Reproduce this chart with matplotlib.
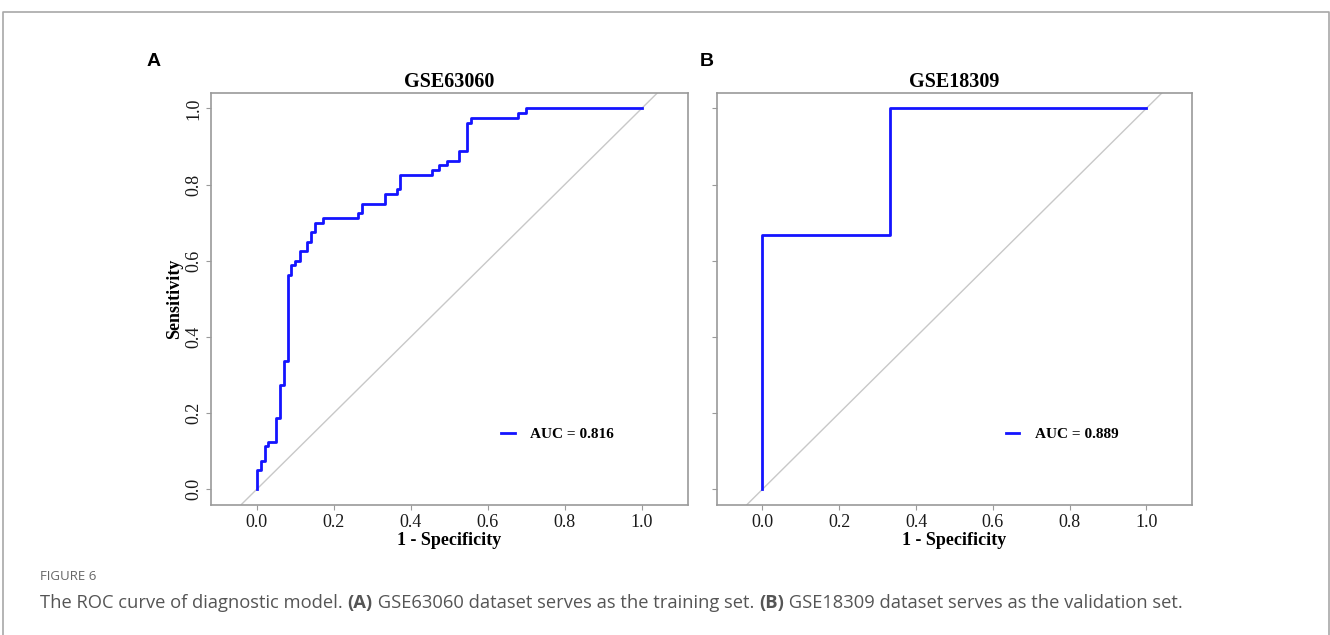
import matplotlib.pyplot as plt
from matplotlib.lines import Line2D

# ROC corner points (1 - specificity, sensitivity)
fpr_a = [0, 0, 0.011, 0.021, 0.030, 0.050, 0.061, 0.070, 0.081, 0.090, 0.100, 0.112,
         0.131, 0.141, 0.151, 0.171, 0.264, 0.273, 0.333, 0.363, 0.372, 0.454, 0.474,
         0.493, 0.526, 0.546, 0.557, 0.678, 0.698, 1.0]
tpr_a = [0, 0.05, 0.075, 0.1125, 0.125, 0.1875, 0.275, 0.3375, 0.5625, 0.5875, 0.6, 0.625,
         0.65, 0.675, 0.7, 0.7125, 0.725, 0.75, 0.775, 0.7875, 0.825, 0.8375, 0.85,
         0.8625, 0.8875, 0.9625, 0.975, 0.9875, 1.0, 1.0]
fpr_b = [0, 0, 0.333, 1.0]
tpr_b = [0, 0.667, 1.0, 1.0]

titles = ["GSE63060", "GSE18309"]
aucs = [0.816, 0.889]
ticks = [0.0, 0.2, 0.4, 0.6, 0.8, 1.0]

serif = "Liberation Serif"
frame = "#9a9a9a"

fig = plt.figure(figsize=(13.3, 6.35), dpi=100)
ax_a = fig.add_axes([0.1586, 0.2055, 0.3584, 0.6485])
ax_b = fig.add_axes([0.5389, 0.2055, 0.3574, 0.6485])

for ax, fpr, tpr, title, auc, lab in zip([ax_a, ax_b], [fpr_a, fpr_b], [tpr_a, tpr_b],
                                         titles, aucs, [True, False]):
    ax.axline((0, 0), (1, 1), color="#c8c8c8", lw=1.0, zorder=1)
    ax.plot(fpr, tpr, drawstyle="steps-post", color="#1414ff", lw=2.0,
            label="AUC = %.3f" % auc, zorder=2)
    ax.set_xlim(-0.119, 1.119)
    ax.set_ylim(-0.040, 1.041)
    ax.set_xticks(ticks)
    ax.set_yticks(ticks)
    ax.set_xticklabels(["%.1f" % t for t in ticks], family=serif, fontsize=13)
    if lab:
        ax.set_yticklabels(["%.1f" % t for t in ticks], family=serif, fontsize=13,
                           rotation=90, va="center")
        ax.set_ylabel("Sensitivity", family=serif, fontsize=13, fontweight="bold",
                      labelpad=1)
    else:
        ax.set_yticklabels([])
    ax.tick_params(length=3.5, color=frame, pad=3, labelcolor="#1a1a1a")
    for s in ax.spines.values():
        s.set_color(frame)
        s.set_linewidth(1.2)
    ax.set_title(title, family=serif, fontsize=14.5, fontweight="bold", pad=4)
    ax.set_xlabel("1 - Specificity", family=serif, fontsize=13, fontweight="bold",
                  labelpad=1)
    ax.legend(loc="center left", bbox_to_anchor=(0.608, 0.171), frameon=False,
              handlelength=0.9, handletextpad=1.0, borderpad=0, borderaxespad=0,
              prop={"family": serif, "size": 11, "weight": "bold"})

fig.text(147 / 1330, 1 - 62 / 635, "A", family="Liberation Sans", fontsize=14,
         fontweight="bold", va="center")
fig.text(700 / 1330, 1 - 62 / 635, "B", family="Liberation Sans", fontsize=14,
         fontweight="bold", va="center")

# outer frame and caption
fig.add_artist(Line2D([3 / 1330, 3 / 1330, 1329 / 1330, 1329 / 1330],
                      [0, 1 - 12 / 635, 1 - 12 / 635, 0], color="#a8a8a8", lw=1.2))
fig.text(40 / 1330, 1 - 577 / 635, "FIGURE 6", family="Open Sans", fontsize=9.5,
         color="#666666", va="center")

caption = [("The ROC curve of diagnostic model. ", "normal"), ("(A)", "bold"),
           (" GSE63060 dataset serves as the training set. ", "normal"), ("(B)", "bold"),
           (" GSE18309 dataset serves as the validation set.", "normal")]
renderer = fig.canvas.get_renderer()
x = 40 / 1330
for piece, weight in caption:
    t = fig.text(x, 1 - 603 / 635, piece, family="Open Sans", fontsize=13.2,
                 color="#555555", va="center", fontweight=weight)
    x += t.get_window_extent(renderer).width / fig.bbox.width

fig.savefig("out.png", dpi=100)
